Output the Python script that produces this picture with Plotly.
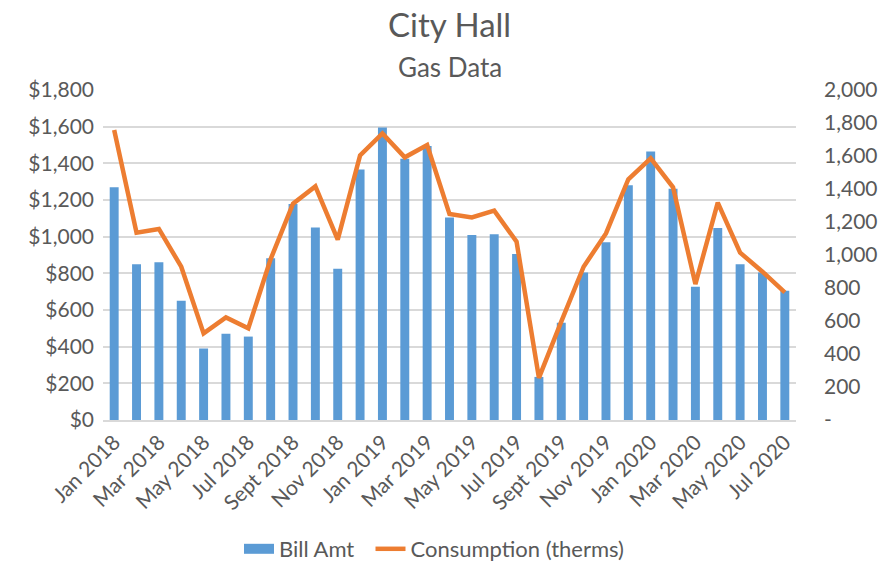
import plotly.graph_objects as go
from plotly.subplots import make_subplots

months = ["Jan 2018", "Feb 2018", "Mar 2018", "Apr 2018", "May 2018", "Jun 2018",
          "Jul 2018", "Aug 2018", "Sept 2018", "Oct 2018", "Nov 2018", "Dec 2018",
          "Jan 2019", "Feb 2019", "Mar 2019", "Apr 2019", "May 2019", "Jun 2019",
          "Jul 2019", "Aug 2019", "Sept 2019", "Oct 2019", "Nov 2019", "Dec 2019",
          "Jan 2020", "Feb 2020", "Mar 2020", "Apr 2020", "May 2020", "Jun 2020",
          "Jul 2020"]

bill_amt = [1270, 850, 860, 650, 390, 470, 455, 882, 1178, 1050, 825, 1367,
            1595, 1425, 1495, 1105, 1009, 1013, 905, 235, 531, 804, 969, 1280,
            1464, 1262, 727, 1047, 849, 804, 705]

consumption = [1758, 1135, 1158, 929, 525, 622, 556, 975, 1311, 1416, 1093, 1604,
               1737, 1592, 1667, 1248, 1228, 1269, 1081, 255, 596, 929, 1131, 1459,
               1586, 1410, 824, 1317, 1014, 899, 774]

x_tick_labels = months[::2]
left_ticks = [0, 200, 400, 600, 800, 1000, 1200, 1400, 1600, 1800]
right_ticks = [0, 200, 400, 600, 800, 1000, 1200, 1400, 1600, 1800, 2000]
right_tick_text = ["-", "200", "400", "600", "800", "1,000", "1,200", "1,400",
                   "1,600", "1,800", "2,000"]

FONT = "Lato, Calibri, sans-serif"
TXT = "#595959"
BLUE = "#5B9BD5"
ORANGE = "#ED7D31"
FS = 21

fig = make_subplots(specs=[[{"secondary_y": True}]])
fig.add_trace(go.Bar(x=months, y=bill_amt, name="Bill Amt", showlegend=False,
                     marker=dict(color=BLUE, line=dict(width=0)), width=0.4),
              secondary_y=False)
# legend entry styled like Excel's wide bar swatch
fig.add_trace(go.Scatter(x=[None], y=[None], name="Bill Amt  ", mode="lines",
                         line=dict(color=BLUE, width=13)), secondary_y=False)
fig.add_trace(go.Scatter(x=months, y=consumption, name="Consumption (therms)",
                         mode="lines", line=dict(color=ORANGE, width=4.5)),
              secondary_y=True)

fig.update_layout(
    width=882, height=563,
    margin=dict(l=103, r=86, t=90, b=143, autoexpand=False),
    paper_bgcolor="white", plot_bgcolor="white",
    font=dict(family=FONT, color=TXT, size=FS),
    showlegend=True,
    legend=dict(orientation="h", x=(434 - 103) / 693, xanchor="center", xref="paper",
                y=-(549 - 420) / 330, yanchor="middle", font=dict(size=22, color=TXT),
                traceorder="normal"),
    annotations=[
        dict(text="City Hall", x=0.5, xref="paper", y=1.0 + 66 / 330, yref="paper",
             yanchor="middle", showarrow=False,
             font=dict(size=33, color=TXT, family=FONT)),
        dict(text="Gas Data", x=0.5, xref="paper", y=1.0 + 23 / 330, yref="paper",
             yanchor="middle", showarrow=False,
             font=dict(size=26, color=TXT, family=FONT)),
    ],
)

fig.update_xaxes(tickmode="array", tickvals=x_tick_labels, ticktext=x_tick_labels,
                 tickangle=-45, showgrid=False, showline=True, linecolor="#D9D9D9",
                 linewidth=1.5, ticks="", automargin=False, domain=[0, 1],
                 tickfont=dict(size=FS, color=TXT))
fig.update_yaxes(range=[0, 1800], tickvals=left_ticks, tickformat="$,.0f",
                 showgrid=True, gridcolor="#D9D9D9", gridwidth=1.5, zeroline=False,
                 automargin=False, ticklabelstandoff=8,
                 tickfont=dict(size=FS, color=TXT), secondary_y=False)
fig.update_yaxes(range=[0, 2000], tickvals=right_ticks, ticktext=right_tick_text,
                 showgrid=False, zeroline=False, ticklabelstandoff=27, automargin=False,
                 tickfont=dict(size=FS, color=TXT), secondary_y=True)

fig.write_html("out.html", config={"displayModeBar": False},
               post_script="document.body.style.margin='0';document.body.style.padding='0';")
